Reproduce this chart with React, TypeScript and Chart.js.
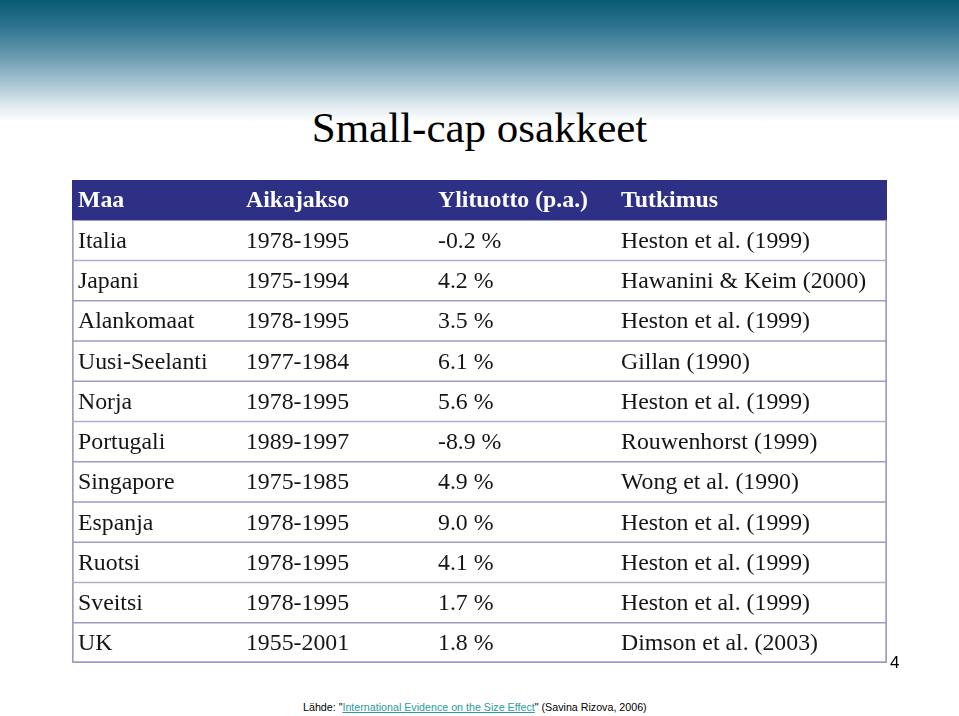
import React, { useEffect, useRef } from "react";
import { Chart, registerables } from "chart.js";

Chart.register(...registerables);

const HEADERS = ["Maa", "Aikajakso", "Ylituotto (p.a.)", "Tutkimus"];
const COUNTRIES = [
  "Italia",
  "Japani",
  "Alankomaat",
  "Uusi-Seelanti",
  "Norja",
  "Portugali",
  "Singapore",
  "Espanja",
  "Ruotsi",
  "Sveitsi",
  "UK",
];
const PERIODS = [
  "1978-1995",
  "1975-1994",
  "1978-1995",
  "1977-1984",
  "1978-1995",
  "1989-1997",
  "1975-1985",
  "1978-1995",
  "1978-1995",
  "1978-1995",
  "1955-2001",
];
const EXCESS = [-0.2, 4.2, 3.5, 6.1, 5.6, -8.9, 4.9, 9.0, 4.1, 1.7, 1.8];
const STUDIES = [
  "Heston et al. (1999)",
  "Hawanini & Keim (2000)",
  "Heston et al. (1999)",
  "Gillan (1990)",
  "Heston et al. (1999)",
  "Rouwenhorst (1999)",
  "Wong et al. (1990)",
  "Heston et al. (1999)",
  "Heston et al. (1999)",
  "Heston et al. (1999)",
  "Dimson et al. (2003)",
];

// column starts as fractions of the table width
const COL_STARTS = [0, 0.2061, 0.4417, 0.6663];

const HEADER_BG = "#2e3086";
const LINE = "#9d9cc3";
const FONT = "'Liberation Serif', 'Times New Roman', serif";

export default function App() {
  const ref = useRef<HTMLCanvasElement>(null);

  useEffect(() => {
    if (!ref.current) return;
    const labels = ["header", ...COUNTRIES];
    const columns = [COUNTRIES, PERIODS, EXCESS.map((v) => v.toFixed(1) + " %"), STUDIES];
    const last = labels.length - 1;
    const cellText = (r: number, c: number) => (r === 0 ? HEADERS[c] : columns[c][r - 1]);

    const textPlugin = {
      id: "cellText",
      afterDatasetsDraw(chart: any) {
        const { ctx } = chart;
        const x = chart.scales.x;
        const y = chart.scales.y;
        ctx.save();
        ctx.textBaseline = "alphabetic";
        ctx.textAlign = "left";
        labels.forEach((_, r) => {
          const py = y.getPixelForValue(r);
          ctx.font = r === 0 ? `bold 23.8px ${FONT}` : `23.8px ${FONT}`;
          ctx.fillStyle = r === 0 ? "#ffffff" : "#151515";
          for (let c = 0; c < HEADERS.length; c++) {
            ctx.fillText(
              cellText(r, c),
              x.getPixelForValue(COL_STARTS[c]) + 6,
              py + (r === 0 ? 7 : 7.5)
            );
          }
        });
        ctx.restore();
      },
    };

    const chart = new Chart(ref.current, {
      type: "bar",
      data: {
        labels,
        datasets: [
          {
            data: labels.map(() => [0, 1]) as any,
            backgroundColor: (c: any) => (c.dataIndex === 0 ? HEADER_BG : "#ffffff"),
            borderColor: (c: any) => (c.dataIndex === 0 ? HEADER_BG : LINE),
            borderWidth: (c: any) => ({
              top: c.dataIndex === 0 ? 2 : 1,
              bottom: c.dataIndex === last ? 2 : 1,
              left: 2,
              right: 2,
            }),
            borderSkipped: false,
            barPercentage: 1,
            categoryPercentage: 1,
          } as any,
        ],
      },
      options: {
        indexAxis: "y",
        animation: false,
        responsive: false,
        events: [],
        layout: { padding: 10 },
        plugins: { legend: { display: false }, tooltip: { enabled: false } },
        scales: {
          x: { type: "linear", min: 0, max: 1, display: false },
          y: { display: false },
        },
      } as any,
      plugins: [textPlugin],
    });
    return () => chart.destroy();
  }, []);

  return (
    <div
      style={{
        position: "fixed",
        left: 0,
        top: 0,
        width: 959,
        height: 716,
        background: "#ffffff",
        overflow: "hidden",
      }}
    >
      <div
        style={{
          position: "absolute",
          left: 0,
          top: 0,
          width: 959,
          height: 122,
          background:
            "linear-gradient(to bottom, #095a75 0%, #2e7490 22%, #6e9db2 48%, #b3cdd9 72%, #e8f0f3 90%, #ffffff 100%)",
        }}
      />
      <div
        style={{
          position: "absolute",
          left: 0,
          top: 106,
          width: 959,
          textAlign: "center",
          fontFamily: FONT,
          fontSize: 43,
          lineHeight: "43px",
          color: "#000",
          whiteSpace: "nowrap",
        }}
      >
        Small-cap osakkeet
      </div>
      <canvas
        ref={ref}
        width={835}
        height={503}
        style={{ position: "absolute", left: 62, top: 170, width: 835, height: 503 }}
      />
      <div
        style={{
          position: "absolute",
          left: 890,
          top: 654,
          fontFamily: "'Liberation Sans', Arial, sans-serif",
          fontSize: 17,
          lineHeight: "17px",
          color: "#000",
        }}
      >
        4
      </div>
      <div
        style={{
          position: "absolute",
          left: 303,
          top: 700.5,
          fontFamily: "'Liberation Sans', Arial, sans-serif",
          fontSize: 10.7,
          lineHeight: "12px",
          color: "#000",
          whiteSpace: "nowrap",
        }}
      >
        Lähde: "
        <span style={{ color: "#2a9c9c", textDecoration: "underline" }}>
          International Evidence on the Size Effect
        </span>
        " (Savina Rizova, 2006)
      </div>
    </div>
  );
}
